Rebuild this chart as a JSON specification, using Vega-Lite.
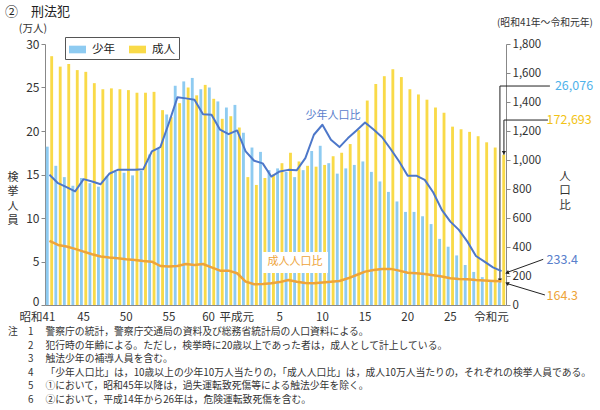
{
  "$schema": "https://vega.github.io/schema/vega-lite/v6.json",
  "width": 461,
  "height": 261,
  "autosize": "none",
  "padding": {"left": 45, "top": 44, "right": 94, "bottom": 105},
  "background": "white",
  "config": {
    "font": "Noto Sans CJK JP",
    "view": {"stroke": null},
    "axis": {"labelFont": "Noto Sans CJK JP", "labelColor": "#333", "domainColor": "#888", "tickColor": "#888", "grid": false},
    "axisRight": {"values": [0,200,400,600,800,1000,1200,1400,1600,1800], "format": ",d", "labelFontSize": 11.5, "tickSize": 4, "labelPadding": 2, "title": null},
    "text": {"font": "Noto Sans CJK JP"}
  },
  "datasets": {
    "counts": [
      {"yr":1966,"series":"少年","value":18.2},{"yr":1966,"series":"成人","value":28.6},
      {"yr":1967,"series":"少年","value":16.0},{"yr":1967,"series":"成人","value":27.4},
      {"yr":1968,"series":"少年","value":14.7},{"yr":1968,"series":"成人","value":27.7},
      {"yr":1969,"series":"少年","value":13.7},{"yr":1969,"series":"成人","value":27.0},
      {"yr":1970,"series":"少年","value":14.6},{"yr":1970,"series":"成人","value":26.8},
      {"yr":1971,"series":"少年","value":14.0},{"yr":1971,"series":"成人","value":25.5},
      {"yr":1972,"series":"少年","value":13.6},{"yr":1972,"series":"成人","value":24.8},
      {"yr":1973,"series":"少年","value":14.8},{"yr":1973,"series":"成人","value":24.9},
      {"yr":1974,"series":"少年","value":15.3},{"yr":1974,"series":"成人","value":24.8},
      {"yr":1975,"series":"少年","value":15.2},{"yr":1975,"series":"成人","value":24.7},
      {"yr":1976,"series":"少年","value":14.9},{"yr":1976,"series":"成人","value":24.4},
      {"yr":1977,"series":"少年","value":15.4},{"yr":1977,"series":"成人","value":24.4},
      {"yr":1978,"series":"少年","value":17.3},{"yr":1978,"series":"成人","value":24.5},
      {"yr":1979,"series":"少年","value":18.0},{"yr":1979,"series":"成人","value":22.4},
      {"yr":1980,"series":"少年","value":21.9},{"yr":1980,"series":"成人","value":21.6},
      {"yr":1981,"series":"少年","value":25.2},{"yr":1981,"series":"成人","value":23.2},
      {"yr":1982,"series":"少年","value":25.7},{"yr":1982,"series":"成人","value":25.0},
      {"yr":1983,"series":"少年","value":26.1},{"yr":1983,"series":"成人","value":24.1},
      {"yr":1984,"series":"少年","value":24.8},{"yr":1984,"series":"成人","value":25.3},
      {"yr":1985,"series":"少年","value":25.0},{"yr":1985,"series":"成人","value":23.7},
      {"yr":1986,"series":"少年","value":23.4},{"yr":1986,"series":"成人","value":21.4},
      {"yr":1987,"series":"少年","value":22.7},{"yr":1987,"series":"成人","value":21.7},
      {"yr":1988,"series":"少年","value":23.0},{"yr":1988,"series":"成人","value":20.4},
      {"yr":1989,"series":"少年","value":19.8},{"yr":1989,"series":"成人","value":14.7},
      {"yr":1990,"series":"少年","value":18.1},{"yr":1990,"series":"成人","value":13.8},
      {"yr":1991,"series":"少年","value":17.6},{"yr":1991,"series":"成人","value":14.6},
      {"yr":1992,"series":"少年","value":15.5},{"yr":1992,"series":"成人","value":15.0},
      {"yr":1993,"series":"少年","value":15.7},{"yr":1993,"series":"成人","value":16.3},
      {"yr":1994,"series":"少年","value":15.3},{"yr":1994,"series":"成人","value":17.5},
      {"yr":1995,"series":"少年","value":14.7},{"yr":1995,"series":"成人","value":16.5},
      {"yr":1996,"series":"少年","value":15.5},{"yr":1996,"series":"成人","value":16.0},
      {"yr":1997,"series":"少年","value":17.7},{"yr":1997,"series":"成人","value":15.9},
      {"yr":1998,"series":"少年","value":18.3},{"yr":1998,"series":"成人","value":16.1},
      {"yr":1999,"series":"少年","value":16.3},{"yr":1999,"series":"成人","value":17.1},
      {"yr":2000,"series":"少年","value":15.1},{"yr":2000,"series":"成人","value":17.5},
      {"yr":2001,"series":"少年","value":15.7},{"yr":2001,"series":"成人","value":18.5},
      {"yr":2002,"series":"少年","value":16.1},{"yr":2002,"series":"成人","value":20.1},
      {"yr":2003,"series":"少年","value":16.5},{"yr":2003,"series":"成人","value":23.5},
      {"yr":2004,"series":"少年","value":15.3},{"yr":2004,"series":"成人","value":25.4},
      {"yr":2005,"series":"少年","value":14.2},{"yr":2005,"series":"成人","value":26.3},
      {"yr":2006,"series":"少年","value":13.0},{"yr":2006,"series":"成人","value":27.1},
      {"yr":2007,"series":"少年","value":11.9},{"yr":2007,"series":"成人","value":26.2},
      {"yr":2008,"series":"少年","value":10.7},{"yr":2008,"series":"成人","value":24.8},
      {"yr":2009,"series":"少年","value":10.7},{"yr":2009,"series":"成人","value":24.2},
      {"yr":2010,"series":"少年","value":10.2},{"yr":2010,"series":"成人","value":23.6},
      {"yr":2011,"series":"少年","value":9.3},{"yr":2011,"series":"成人","value":22.7},
      {"yr":2012,"series":"少年","value":7.6},{"yr":2012,"series":"成人","value":22.1},
      {"yr":2013,"series":"少年","value":6.7},{"yr":2013,"series":"成人","value":20.5},
      {"yr":2014,"series":"少年","value":5.7},{"yr":2014,"series":"成人","value":20.2},
      {"yr":2015,"series":"少年","value":4.6},{"yr":2015,"series":"成人","value":19.9},
      {"yr":2016,"series":"少年","value":3.8},{"yr":2016,"series":"成人","value":19.4},
      {"yr":2017,"series":"少年","value":3.2},{"yr":2017,"series":"成人","value":18.7},
      {"yr":2018,"series":"少年","value":2.8},{"yr":2018,"series":"成人","value":18.1},
      {"yr":2019,"series":"少年","value":2.6076},{"yr":2019,"series":"成人","value":17.2693}
    ],
    "rates": [
      {"yr":1966,"series":"少年","rate":898},{"yr":1966,"series":"成人","rate":442},
      {"yr":1967,"series":"少年","rate":840},{"yr":1967,"series":"成人","rate":414},
      {"yr":1968,"series":"少年","rate":813},{"yr":1968,"series":"成人","rate":403},
      {"yr":1969,"series":"少年","rate":783},{"yr":1969,"series":"成人","rate":387},
      {"yr":1970,"series":"少年","rate":868},{"yr":1970,"series":"成人","rate":368},
      {"yr":1971,"series":"少年","rate":852},{"yr":1971,"series":"成人","rate":350},
      {"yr":1972,"series":"少年","rate":833},{"yr":1972,"series":"成人","rate":334},
      {"yr":1973,"series":"少年","rate":905},{"yr":1973,"series":"成人","rate":327},
      {"yr":1974,"series":"少年","rate":932},{"yr":1974,"series":"成人","rate":322},
      {"yr":1975,"series":"少年","rate":932},{"yr":1975,"series":"成人","rate":315},
      {"yr":1976,"series":"少年","rate":932},{"yr":1976,"series":"成人","rate":311},
      {"yr":1977,"series":"少年","rate":937},{"yr":1977,"series":"成人","rate":304},
      {"yr":1978,"series":"少年","rate":1059},{"yr":1978,"series":"成人","rate":299},
      {"yr":1979,"series":"少年","rate":1089},{"yr":1979,"series":"成人","rate":269},
      {"yr":1980,"series":"少年","rate":1255},{"yr":1980,"series":"成人","rate":265},
      {"yr":1981,"series":"少年","rate":1432},{"yr":1981,"series":"成人","rate":269},
      {"yr":1982,"series":"少年","rate":1425},{"yr":1982,"series":"成人","rate":283},
      {"yr":1983,"series":"少年","rate":1416},{"yr":1983,"series":"成人","rate":276},
      {"yr":1984,"series":"少年","rate":1315},{"yr":1984,"series":"成人","rate":283},
      {"yr":1985,"series":"少年","rate":1312},{"yr":1985,"series":"成人","rate":260},
      {"yr":1986,"series":"少年","rate":1209},{"yr":1986,"series":"成人","rate":237},
      {"yr":1987,"series":"少年","rate":1178},{"yr":1987,"series":"成人","rate":237},
      {"yr":1988,"series":"少年","rate":1204},{"yr":1988,"series":"成人","rate":219},
      {"yr":1989,"series":"少年","rate":1060},{"yr":1989,"series":"成人","rate":161},
      {"yr":1990,"series":"少年","rate":995},{"yr":1990,"series":"成人","rate":143},
      {"yr":1991,"series":"少年","rate":977},{"yr":1991,"series":"成人","rate":145},
      {"yr":1992,"series":"少年","rate":886},{"yr":1992,"series":"成人","rate":150},
      {"yr":1993,"series":"少年","rate":921},{"yr":1993,"series":"成人","rate":158},
      {"yr":1994,"series":"少年","rate":932},{"yr":1994,"series":"成人","rate":173},
      {"yr":1995,"series":"少年","rate":930},{"yr":1995,"series":"成人","rate":160},
      {"yr":1996,"series":"少年","rate":1013},{"yr":1996,"series":"成人","rate":152},
      {"yr":1997,"series":"少年","rate":1174},{"yr":1997,"series":"成人","rate":150},
      {"yr":1998,"series":"少年","rate":1243},{"yr":1998,"series":"成人","rate":155},
      {"yr":1999,"series":"少年","rate":1139},{"yr":1999,"series":"成人","rate":161},
      {"yr":2000,"series":"少年","rate":1089},{"yr":2000,"series":"成人","rate":166},
      {"yr":2001,"series":"少年","rate":1151},{"yr":2001,"series":"成人","rate":184},
      {"yr":2002,"series":"少年","rate":1204},{"yr":2002,"series":"成人","rate":207},
      {"yr":2003,"series":"少年","rate":1259},{"yr":2003,"series":"成人","rate":230},
      {"yr":2004,"series":"少年","rate":1211},{"yr":2004,"series":"成人","rate":242},
      {"yr":2005,"series":"少年","rate":1157},{"yr":2005,"series":"成人","rate":249},
      {"yr":2006,"series":"少年","rate":1076},{"yr":2006,"series":"成人","rate":249},
      {"yr":2007,"series":"少年","rate":990},{"yr":2007,"series":"成人","rate":237},
      {"yr":2008,"series":"少年","rate":891},{"yr":2008,"series":"成人","rate":223},
      {"yr":2009,"series":"少年","rate":892},{"yr":2009,"series":"成人","rate":219},
      {"yr":2010,"series":"少年","rate":863},{"yr":2010,"series":"成人","rate":214},
      {"yr":2011,"series":"少年","rate":776},{"yr":2011,"series":"成人","rate":205},
      {"yr":2012,"series":"少年","rate":656},{"yr":2012,"series":"成人","rate":196},
      {"yr":2013,"series":"少年","rate":575},{"yr":2013,"series":"成人","rate":184},
      {"yr":2014,"series":"少年","rate":518},{"yr":2014,"series":"成人","rate":180},
      {"yr":2015,"series":"少年","rate":437},{"yr":2015,"series":"成人","rate":178},
      {"yr":2016,"series":"少年","rate":338},{"yr":2016,"series":"成人","rate":172},
      {"yr":2017,"series":"少年","rate":299},{"yr":2017,"series":"成人","rate":169},
      {"yr":2018,"series":"少年","rate":260},{"yr":2018,"series":"成人","rate":166},
      {"yr":2019,"series":"少年","rate":233.4},{"yr":2019,"series":"成人","rate":164.3}
    ],
    "one": [{}]
  },
  "layer": [
    {
      "layer": [
        {
          "data": {"name": "counts"},
          "mark": {"type": "bar"},
          "encoding": {
            "x": {
              "field": "yr", "type": "ordinal",
              "scale": {"paddingInner": 0.15, "paddingOuter": 0.1},
              "axis": {
                "title": null,
                "values": [1966,1970,1975,1980,1985,1989,1993,1998,2003,2008,2013,2019],
                "labelExpr": "datum.value == 1966 ? '昭和41' : datum.value == 1970 ? '45' : datum.value == 1975 ? '50' : datum.value == 1980 ? '55' : datum.value == 1985 ? '60' : datum.value == 1989 ? '平成元' : datum.value == 1993 ? '5' : datum.value == 1998 ? '10' : datum.value == 2003 ? '15' : datum.value == 2008 ? '20' : datum.value == 2013 ? '25' : '令和元'",
                "labelOffset": {"condition": [
                  {"test": "datum.value == 1966", "value": -12},
                  {"test": "datum.value == 1985", "value": -3},
                  {"test": "datum.value == 1989", "value": -9},
                  {"test": "datum.value == 2019", "value": -10}
                ], "value": 0},
                "labelAngle": 0, "ticks": false, "tickSize": 0, "labelPadding": 6,
                "labelFontSize": 11.5, "labelOverlap": false
              }
            },
            "xOffset": {"field": "series", "sort": ["少年", "成人"], "scale": {"paddingInner": 0.35}},
            "y": {
              "field": "value", "type": "quantitative",
              "scale": {"domain": [0, 30]},
              "axis": {"title": null, "orient": "left", "values": [0,5,10,15,20,25,30], "labelFontSize": 12, "tickSize": 4, "labelPadding": 2,
                "labelOffset": {"condition": {"test": "datum.value == 0", "value": -3.5}, "value": 0}}
            },
            "color": {
              "field": "series", "type": "nominal",
              "scale": {"domain": ["少年", "成人"], "range": ["#8ecbf1", "#f9da48"]},
              "legend": {
                "orient": "none", "legendX": 20, "legendY": -7, "direction": "horizontal",
                "title": null, "strokeColor": "#555", "fillColor": "white", "padding": 4,
                "symbolType": "M-1,-0.45H1V0.45H-1Z", "symbolSize": 289, "symbolStrokeWidth": 0,
                "labelFontSize": 11.5, "labelColor": "#222", "labelOffset": 6, "columnPadding": 14
              }
            }
          }
        },
        {
          "data": {"name": "one"},
          "mark": {"type": "text", "text": "②　刑法犯", "align": "left", "baseline": "middle", "fontSize": 13, "color": "#222", "dx": -44.5},
          "encoding": {
            "x": {"datum": 1966, "type": "ordinal"},
            "y": {"datum": 33.68, "type": "quantitative", "scale": {"domain": [0, 30]}}
          }
        },
        {
          "data": {"name": "one"},
          "mark": {"type": "text", "text": "(万人)", "align": "right", "baseline": "middle", "fontSize": 10.5, "color": "#333", "dx": -2.5},
          "encoding": {
            "x": {"datum": 1966, "type": "ordinal"},
            "y": {"datum": 31.75, "type": "quantitative", "scale": {"domain": [0, 30]}}
          }
        },
        {
          "data": {"name": "one"},
          "mark": {"type": "text", "text": ["検", "挙", "人", "員"], "align": "center", "baseline": "middle", "fontSize": 11, "lineHeight": 14.5, "color": "#333", "dx": -36.5},
          "encoding": {
            "x": {"datum": 1966, "type": "ordinal"},
            "y": {"datum": 14.6, "type": "quantitative", "scale": {"domain": [0, 30]}}
          }
        },
        {
          "data": {"name": "one"},
          "mark": {"type": "text", "text": ["人", "口", "比"], "align": "center", "baseline": "middle", "fontSize": 11.5, "lineHeight": 14.5, "color": "#333", "dx": 63.4},
          "encoding": {
            "x": {"datum": 2019, "type": "ordinal"},
            "y": {"datum": 14.77, "type": "quantitative", "scale": {"domain": [0, 30]}}
          }
        },
        {
          "data": {"name": "one"},
          "mark": {"type": "text", "text": "(昭和41年～令和元年)", "align": "right", "baseline": "middle", "fontSize": 9.8, "color": "#333", "dx": 91.4},
          "encoding": {
            "x": {"datum": 2019, "type": "ordinal"},
            "y": {"datum": 32.45, "type": "quantitative", "scale": {"domain": [0, 30]}}
          }
        },
        {
          "data": {"name": "one"},
          "mark": {"type": "text", "text": "注", "align": "left", "baseline": "top", "fontSize": 9.8, "color": "#333", "dx": -41.5},
          "encoding": {
            "x": {"datum": 1966, "type": "ordinal"},
            "y": {"datum": -2.55, "type": "quantitative", "scale": {"domain": [0, 30]}}
          }
        },
        {
          "data": {"name": "one"},
          "mark": {"type": "text", "text": ["1", "2", "3", "4", "5", "6"], "align": "left", "baseline": "top", "fontSize": 9.8, "lineHeight": 13.5, "color": "#333", "dx": -21.5},
          "encoding": {
            "x": {"datum": 1966, "type": "ordinal"},
            "y": {"datum": -2.55, "type": "quantitative", "scale": {"domain": [0, 30]}}
          }
        },
        {
          "data": {"name": "one"},
          "mark": {"type": "text", "text": [
            "警察庁の統計，警察庁交通局の資料及び総務省統計局の人口資料による。",
            "犯行時の年齢による。ただし，検挙時に20歳以上であった者は，成人として計上している。",
            "触法少年の補導人員を含む。",
            "「少年人口比」は，10歳以上の少年10万人当たりの，「成人人口比」は，成人10万人当たりの，それぞれの検挙人員である。",
            "①において，昭和45年以降は，過失運転致死傷等による触法少年を除く。",
            "②において，平成14年から26年は，危険運転致死傷を含む。"
          ], "align": "left", "baseline": "top", "fontSize": 9.8, "lineHeight": 13.5, "color": "#333", "dx": -4},
          "encoding": {
            "x": {"datum": 1966, "type": "ordinal"},
            "y": {"datum": -2.55, "type": "quantitative", "scale": {"domain": [0, 30]}}
          }
        },
        {
          "data": {"name": "one"},
          "mark": {"type": "text", "text": "26,076", "align": "left", "baseline": "middle", "fontSize": 12.5, "color": "#4fb2ea", "dx": 53.4},
          "encoding": {
            "x": {"datum": 2019, "type": "ordinal"},
            "y": {"datum": 25.17, "type": "quantitative", "scale": {"domain": [0, 30]}}
          }
        },
        {
          "data": {"name": "one"},
          "mark": {"type": "text", "text": "172,693", "align": "left", "baseline": "middle", "fontSize": 12.5, "color": "#f2c316", "dx": 45.1},
          "encoding": {
            "x": {"datum": 2019, "type": "ordinal"},
            "y": {"datum": 21.26, "type": "quantitative", "scale": {"domain": [0, 30]}}
          }
        },
        {
          "data": {"name": "one"},
          "mark": {"type": "rule", "color": "#222", "strokeWidth": 1, "xOffset": -1.6, "x2Offset": 48.4},
          "encoding": {
            "x": {"datum": 2019, "type": "ordinal"},
            "x2": {"datum": 2019},
            "y": {"datum": 25.17, "type": "quantitative", "scale": {"domain": [0, 30]}}
          }
        },
        {
          "data": {"name": "one"},
          "mark": {"type": "rule", "color": "#222", "strokeWidth": 1, "xOffset": -1.6},
          "encoding": {
            "x": {"datum": 2019, "type": "ordinal"},
            "y": {"datum": 25.17, "type": "quantitative", "scale": {"domain": [0, 30]}},
            "y2": {"datum": 2.6076}
          }
        },
        {
          "data": {"name": "one"},
          "mark": {"type": "rule", "color": "#222", "strokeWidth": 1, "xOffset": 2.4, "x2Offset": 46.4},
          "encoding": {
            "x": {"datum": 2019, "type": "ordinal"},
            "x2": {"datum": 2019},
            "y": {"datum": 21.26, "type": "quantitative", "scale": {"domain": [0, 30]}}
          }
        },
        {
          "data": {"name": "one"},
          "mark": {"type": "rule", "color": "#222", "strokeWidth": 1, "xOffset": 2.4},
          "encoding": {
            "x": {"datum": 2019, "type": "ordinal"},
            "y": {"datum": 21.26, "type": "quantitative", "scale": {"domain": [0, 30]}},
            "y2": {"datum": 17.2693}
          }
        },
        {
          "data": {"name": "one"},
          "mark": {"type": "point", "shape": "triangle-down", "filled": true, "color": "#222", "opacity": 1, "size": 18, "xOffset": -1.6, "yOffset": -2},
          "encoding": {
            "x": {"datum": 2019, "type": "ordinal"},
            "y": {"datum": 2.6076, "type": "quantitative", "scale": {"domain": [0, 30]}}
          }
        },
        {
          "data": {"name": "one"},
          "mark": {"type": "point", "shape": "triangle-down", "filled": true, "color": "#222", "opacity": 1, "size": 18, "xOffset": 2.4, "yOffset": -2},
          "encoding": {
            "x": {"datum": 2019, "type": "ordinal"},
            "y": {"datum": 17.2693, "type": "quantitative", "scale": {"domain": [0, 30]}}
          }
        }
      ]
    },
    {
      "layer": [
        {
          "data": {"name": "rates"},
          "transform": [{"filter": "datum.series == '成人'"}],
          "mark": {"type": "line", "color": "#eea43a", "strokeWidth": 2.5, "strokeJoin": "round"},
          "encoding": {
            "x": {"field": "yr", "type": "ordinal"},
            "y": {
              "field": "rate", "type": "quantitative",
              "scale": {"domain": [0, 1800]},
              "axis": {"orient": "right", "title": null, "values": [0,200,400,600,800,1000,1200,1400,1600,1800], "format": ",d", "labelFontSize": 11.5, "tickSize": 4, "labelPadding": 2}
            }
          }
        },
        {
          "data": {"name": "rates"},
          "transform": [{"filter": "datum.series == '少年'"}],
          "mark": {"type": "line", "color": "#4d77c9", "strokeWidth": 2, "strokeJoin": "round"},
          "encoding": {
            "x": {"field": "yr", "type": "ordinal"},
            "y": {
              "field": "rate", "type": "quantitative",
              "scale": {"domain": [0, 1800]},
              "axis": {"orient": "right", "title": null, "values": [0,200,400,600,800,1000,1200,1400,1600,1800], "format": ",d", "labelFontSize": 11.5, "tickSize": 4, "labelPadding": 2}
            }
          }
        },
        {
          "data": {"name": "one"},
          "mark": {"type": "point", "shape": "M-1,-0.32H1V0.32H-1Z", "filled": true, "color": "white", "opacity": 1, "size": 4356, "xOffset": -1.8},
          "encoding": {
            "x": {"datum": 1995, "type": "ordinal"},
            "y": {"datum": 293, "type": "quantitative", "scale": {"domain": [0, 1800]}, "axis": {"orient": "right", "title": null, "values": [0,200,400,600,800,1000,1200,1400,1600,1800], "format": ",d", "labelFontSize": 11.5, "tickSize": 4, "labelPadding": 2}}
          }
        },
        {
          "data": {"name": "one"},
          "mark": {"type": "text", "text": "少年人口比", "align": "center", "baseline": "middle", "fontSize": 11, "color": "#5a80cc", "dx": 2},
          "encoding": {
            "x": {"datum": 1999, "type": "ordinal"},
            "y": {"datum": 1303, "type": "quantitative", "scale": {"domain": [0, 1800]}, "axis": {"orient": "right", "title": null, "values": [0,200,400,600,800,1000,1200,1400,1600,1800], "format": ",d", "labelFontSize": 11.5, "tickSize": 4, "labelPadding": 2}}
          }
        },
        {
          "data": {"name": "one"},
          "mark": {"type": "text", "text": "成人人口比", "align": "center", "baseline": "middle", "fontSize": 11, "color": "#eea43a", "dx": -1.8},
          "encoding": {
            "x": {"datum": 1995, "type": "ordinal"},
            "y": {"datum": 296, "type": "quantitative", "scale": {"domain": [0, 1800]}, "axis": {"orient": "right", "title": null, "values": [0,200,400,600,800,1000,1200,1400,1600,1800], "format": ",d", "labelFontSize": 11.5, "tickSize": 4, "labelPadding": 2}}
          }
        },
        {
          "data": {"name": "one"},
          "mark": {"type": "text", "text": "233.4", "align": "left", "baseline": "middle", "fontSize": 12.5, "color": "#5a80cc", "dx": 45.1},
          "encoding": {
            "x": {"datum": 2019, "type": "ordinal"},
            "y": {"datum": 310, "type": "quantitative", "scale": {"domain": [0, 1800]}, "axis": {"orient": "right", "title": null, "values": [0,200,400,600,800,1000,1200,1400,1600,1800], "format": ",d", "labelFontSize": 11.5, "tickSize": 4, "labelPadding": 2}}
          }
        },
        {
          "data": {"name": "one"},
          "mark": {"type": "text", "text": "164.3", "align": "left", "baseline": "middle", "fontSize": 12.5, "color": "#eea43a", "dx": 45.1},
          "encoding": {
            "x": {"datum": 2019, "type": "ordinal"},
            "y": {"datum": 62, "type": "quantitative", "scale": {"domain": [0, 1800]}, "axis": {"orient": "right", "title": null, "values": [0,200,400,600,800,1000,1200,1400,1600,1800], "format": ",d", "labelFontSize": 11.5, "tickSize": 4, "labelPadding": 2}}
          }
        },
        {
          "data": {"name": "one"},
          "mark": {"type": "rule", "color": "#222", "strokeWidth": 1, "xOffset": 41.7, "x2Offset": 4.5},
          "encoding": {
            "x": {"datum": 2019, "type": "ordinal"},
            "x2": {"datum": 2019},
            "y": {"datum": 315, "type": "quantitative", "scale": {"domain": [0, 1800]}, "axis": {"orient": "right", "title": null, "values": [0,200,400,600,800,1000,1200,1400,1600,1800], "format": ",d", "labelFontSize": 11.5, "tickSize": 4, "labelPadding": 2}},
            "y2": {"datum": 222}
          }
        },
        {
          "data": {"name": "one"},
          "mark": {"type": "rule", "color": "#222", "strokeWidth": 1, "xOffset": 43.4, "x2Offset": 4.5},
          "encoding": {
            "x": {"datum": 2019, "type": "ordinal"},
            "x2": {"datum": 2019},
            "y": {"datum": 69, "type": "quantitative", "scale": {"domain": [0, 1800]}, "axis": {"orient": "right", "title": null, "values": [0,200,400,600,800,1000,1200,1400,1600,1800], "format": ",d", "labelFontSize": 11.5, "tickSize": 4, "labelPadding": 2}},
            "y2": {"datum": 150}
          }
        },
        {
          "data": {"name": "one"},
          "mark": {"type": "point", "shape": "triangle-up", "angle": 250, "filled": true, "color": "#222", "opacity": 1, "size": 20, "xOffset": 5.5},
          "encoding": {
            "x": {"datum": 2019, "type": "ordinal"},
            "y": {"datum": 222, "type": "quantitative", "scale": {"domain": [0, 1800]}, "axis": {"orient": "right", "title": null, "values": [0,200,400,600,800,1000,1200,1400,1600,1800], "format": ",d", "labelFontSize": 11.5, "tickSize": 4, "labelPadding": 2}}
          }
        },
        {
          "data": {"name": "one"},
          "mark": {"type": "point", "shape": "triangle-up", "angle": 295, "filled": true, "color": "#222", "opacity": 1, "size": 20, "xOffset": 5.5},
          "encoding": {
            "x": {"datum": 2019, "type": "ordinal"},
            "y": {"datum": 150, "type": "quantitative", "scale": {"domain": [0, 1800]}, "axis": {"orient": "right", "title": null, "values": [0,200,400,600,800,1000,1200,1400,1600,1800], "format": ",d", "labelFontSize": 11.5, "tickSize": 4, "labelPadding": 2}}
          }
        }
      ]
    }
  ],
  "resolve": {"scale": {"y": "independent"}}
}
